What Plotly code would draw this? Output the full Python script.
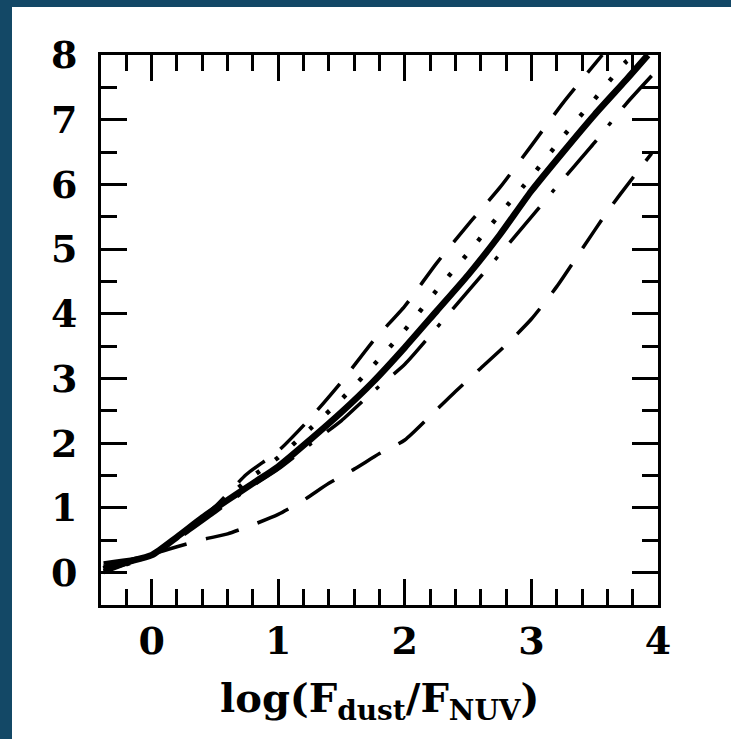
import plotly.graph_objects as go

# A_NUV versus log(F_dust/F_NUV) for a set of model histories
solid_x = [-0.38, -0.2, 0.0, 0.2, 0.4, 0.6, 0.8, 1.0, 1.25, 1.5, 1.75, 2.0, 2.25, 2.5, 2.75, 3.0, 3.25, 3.5, 3.75, 3.92]
solid_y = [0.05, 0.16, 0.27, 0.55, 0.85, 1.12, 1.38, 1.64, 2.05, 2.48, 2.95, 3.48, 4.04, 4.60, 5.22, 5.90, 6.50, 7.08, 7.62, 8.00]

dotted_x = [-0.38, 0.0, 0.25, 0.5, 0.75, 1.0, 1.25, 1.5, 1.75, 2.0, 2.25, 2.5, 2.75, 3.0, 3.25, 3.5, 3.75, 3.83]
dotted_y = [0.02, 0.27, 0.62, 1.00, 1.42, 1.78, 2.22, 2.68, 3.20, 3.75, 4.36, 4.94, 5.54, 6.12, 6.74, 7.32, 7.90, 8.00]

upper_x = [-0.38, 0.0, 0.25, 0.5, 0.75, 1.0, 1.25, 1.5, 1.75, 2.0, 2.25, 2.5, 2.75, 3.0, 3.25, 3.5, 3.56]
upper_y = [0.15, 0.28, 0.62, 1.02, 1.52, 1.88, 2.38, 2.95, 3.58, 4.12, 4.78, 5.38, 5.95, 6.60, 7.26, 7.86, 8.00]

dashdot_x = [-0.38, 0.0, 0.25, 0.5, 0.75, 1.0, 1.25, 1.5, 1.75, 2.0, 2.25, 2.5, 2.75, 3.0, 3.25, 3.5, 3.75, 3.95]
dashdot_y = [0.10, 0.27, 0.58, 0.93, 1.28, 1.60, 1.98, 2.35, 2.80, 3.22, 3.78, 4.35, 4.92, 5.50, 6.08, 6.65, 7.25, 7.68]

lower_x = [-0.38, 0.0, 0.2, 0.4, 0.6, 0.8, 1.0, 1.2, 1.4, 1.6, 1.8, 2.0, 2.2, 2.4, 2.6, 2.8, 3.0, 3.2, 3.4, 3.6, 3.8, 3.95]
lower_y = [0.00, 0.28, 0.40, 0.51, 0.60, 0.74, 0.90, 1.12, 1.38, 1.60, 1.84, 2.05, 2.42, 2.80, 3.16, 3.52, 3.92, 4.42, 5.00, 5.58, 6.10, 6.48]

x_ticks = [0, 1, 2, 3, 4]
y_ticks = [0, 1, 2, 3, 4, 5, 6, 7, 8]

FONT = "DejaVu Serif"

fig = go.Figure()

curves = [
    (upper_x, upper_y, 3.5, "34px,20px"),
    (dotted_x, dotted_y, 4.5, "4px,19px"),
    (dashdot_x, dashdot_y, 3.5, "46px,19px,4px,19px"),
    (lower_x, lower_y, 3.5, "34px,20px"),
    (solid_x, solid_y, 6.5, "solid"),
]
for xs, ys, w, dash in curves:
    fig.add_trace(go.Scatter(
        x=xs, y=ys, mode="lines",
        line=dict(color="black", width=w, dash=dash, shape="spline", smoothing=0.6),
        showlegend=False, hoverinfo="skip",
    ))

axis_common = dict(
    showline=True, linecolor="black", linewidth=3, mirror="ticks",
    ticks="inside", ticklen=26, tickwidth=3, tickcolor="black",
    showgrid=False, zeroline=False,
    tickfont=dict(family=FONT, size=38, color="black", weight="bold"),
)

fig.update_xaxes(
    range=[-0.4, 4.0], tickmode="array", tickvals=x_ticks,
    ticktext=[str(v) for v in x_ticks],
    minor=dict(ticks="inside", ticklen=16, tickwidth=3, tickcolor="black",
               dtick=0.2, tick0=0, showgrid=False),
    ticklabelstandoff=0,
    **axis_common,
)
fig.update_yaxes(
    range=[-0.5, 8.0], tickmode="array", tickvals=y_ticks,
    ticktext=[str(v) for v in y_ticks],
    minor=dict(ticks="inside", ticklen=16, tickwidth=3, tickcolor="black",
               dtick=0.5, tick0=0, showgrid=False),
    ticklabelstandoff=13,
    **axis_common,
)

W, H = 731, 739
L, R, T, B = 101, 73, 55, 134
pw, ph = W - L - R, H - T - B


def px_to_paper_x(px):
    return (px - L) / pw


def px_to_paper_y(py):
    return (H - B - py) / ph


# white page panel over the dark frame
fig.add_shape(
    type="rect", xref="paper", yref="paper",
    x0=px_to_paper_x(12), x1=px_to_paper_x(W + 2),
    y0=px_to_paper_y(H + 2), y1=px_to_paper_y(7),
    fillcolor="white", line=dict(width=0), layer="below",
)

fig.add_annotation(
    text="log(F<sub>dust</sub>/F<sub>NUV</sub>)",
    xref="paper", yref="paper", x=0.5, y=px_to_paper_y(672),
    xanchor="center", yanchor="top", showarrow=False,
    font=dict(family=FONT, size=40, color="black", weight="bold"),
)

fig.update_layout(
    width=W, height=H,
    margin=dict(l=L, r=R, t=T, b=B, pad=0),
    paper_bgcolor="#134866",
    plot_bgcolor="white",
)

fig.write_html("out.html")
